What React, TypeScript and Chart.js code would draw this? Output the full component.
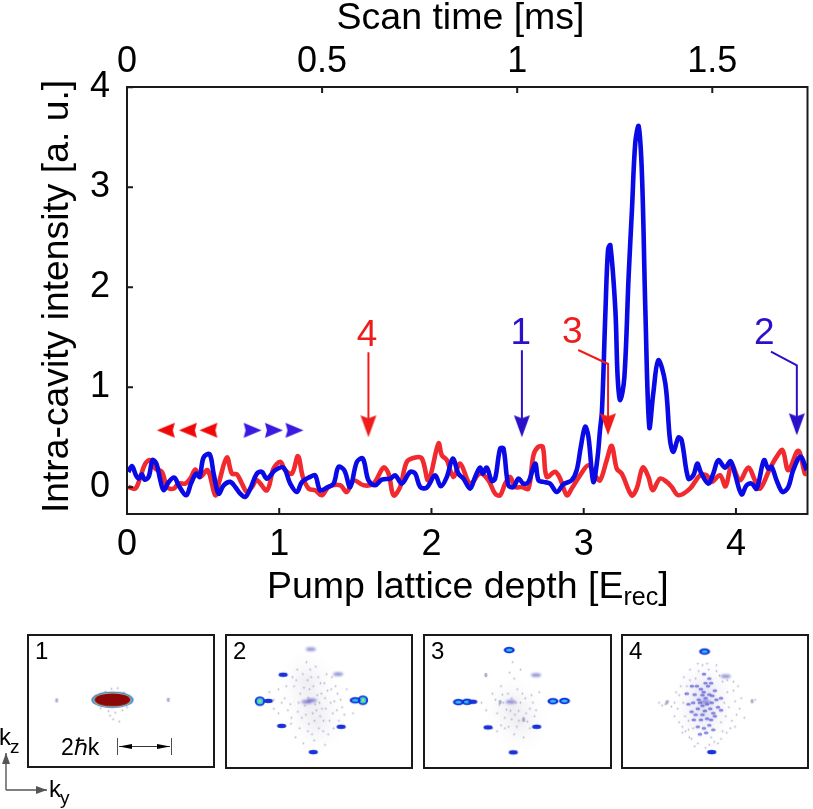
import React, { useEffect, useRef } from "react";
import { Chart, registerables } from "chart.js";
Chart.register(...registerables);

const FONT = "'Liberation Sans', Arial, sans-serif";

// Main traces: pump lattice depth [E_rec] and intensity [a.u.]
const blueDepth = [0.009,0.033,0.059,0.077,0.098,0.114,0.142,0.168,0.193,0.219,0.241,0.274,0.311,0.339,0.389,0.42,0.455,0.477,0.503,0.543,0.569,0.602,0.635,0.678,0.711,0.744,0.777,0.81,0.853,0.886,0.919,0.974,1.028,1.072,1.116,1.149,1.203,1.236,1.269,1.313,1.357,1.389,1.427,1.466,1.51,1.549,1.586,1.63,1.674,1.729,1.762,1.805,1.86,1.893,1.926,1.969,2.024,2.061,2.101,2.14,2.177,2.21,2.254,2.287,2.319,2.337,2.363,2.396,2.418,2.451,2.473,2.505,2.538,2.571,2.604,2.637,2.681,2.703,2.735,2.779,2.823,2.867,2.921,2.954,2.981,3.009,3.031,3.063,3.09,3.107,3.12,3.143,3.16,3.175,3.208,3.223,3.24,3.267,3.295,3.317,3.339,3.361,3.383,3.405,3.431,3.457,3.49,3.536,3.567,3.589,3.622,3.643,3.687,3.72,3.746,3.768,3.818,3.851,3.884,3.928,3.965,3.993,4.037,4.07,4.103,4.136,4.184,4.212,4.234,4.267,4.306,4.344,4.376,4.424,4.464];
const blueIntensity = [0.154,0.211,0.12,0.087,0.13,0.077,0.104,0.271,0.237,0.07,-0.03,0.054,0.097,0.02,-0.08,0.037,0.137,0.104,0.298,0.331,0.137,-0.064,0.02,0.054,0.003,-0.064,-0.097,-0.013,0.137,0.154,0.087,0.171,0.197,0.037,-0.047,0.054,0.104,0.12,-0.03,-0.003,0.037,0.204,0.171,0.003,0.254,0.288,0.07,0.02,0.077,0.087,0.12,0.037,0.154,0.137,0.003,-0.003,0.12,0.01,0.104,0.288,0.137,0.087,-0.013,0.104,0.197,0.137,0.197,0.064,0.087,0.388,0.388,0.02,0.003,0.087,0.037,0.054,0.237,0.07,0.054,0.037,-0.047,0.03,0.07,0.171,0.405,0.605,0.505,0.054,0.288,0.572,0.77,1.77,2.38,2.42,1.77,1.1,0.87,1.1,2.11,2.78,3.45,3.61,3.11,1.77,0.6,0.94,1.27,1.04,0.47,0.355,0.498,0.472,0.087,0.12,0.237,0.154,0.037,0.137,0.271,0.197,0.261,0.137,-0.07,0.02,0.037,-0.013,0.271,0.187,0.204,0.07,-0.047,0.003,0.171,0.304,0.171];
const redDepth = [0.009,0.055,0.088,0.12,0.153,0.186,0.23,0.263,0.306,0.339,0.383,0.416,0.449,0.481,0.53,0.58,0.608,0.656,0.689,0.722,0.755,0.788,0.821,0.853,0.919,0.963,1.007,1.039,1.083,1.123,1.155,1.193,1.236,1.28,1.324,1.4,1.444,1.488,1.554,1.619,1.685,1.718,1.751,1.794,1.838,1.893,1.937,1.98,2.046,2.068,2.101,2.144,2.188,2.254,2.319,2.374,2.418,2.451,2.484,2.516,2.549,2.593,2.637,2.67,2.702,2.731,2.757,2.812,2.845,2.889,2.921,2.976,3.031,3.074,3.107,3.151,3.184,3.217,3.25,3.315,3.348,3.388,3.425,3.453,3.501,3.545,3.578,3.622,3.698,3.764,3.807,3.84,3.895,3.932,3.972,4.026,4.081,4.125,4.158,4.223,4.267,4.306,4.344,4.409,4.453,4.464];
const redIntensity = [0.003,-0.013,0.104,0.237,0.271,0.187,0.154,0.003,-0.013,0.037,0.037,0.087,0.177,0.104,0.171,-0.08,0.07,0.298,0.137,0.13,0.037,-0.047,0.003,0.07,-0.03,0.187,0.254,0.171,0.137,0.311,0.104,-0.013,-0.03,-0.08,0.003,0.02,-0.047,0.07,0.02,0.037,0.197,0.137,-0.08,0.003,0.254,0.298,0.288,0.07,0.438,0.321,0.271,0.104,0.237,0.037,0.137,0.07,-0.064,-0.08,0.037,0.104,0.003,0.003,-0.013,0.321,0.405,0.405,0.104,0.154,0.087,-0.08,-0.013,0.12,0.221,0.12,0.07,0.271,0.415,0.187,0.137,-0.08,-0.013,0.197,0.104,-0.03,0.087,0.054,0.003,-0.08,-0.013,0.12,0.12,0.054,0.12,0.01,0.221,0.07,0.197,0.07,-0.013,0.187,0.304,0.371,0.171,0.365,0.137,0.137];

const xTicksBottom = [0, 1, 2, 3, 4];
const xTicksTop = [0, 0.5, 1, 1.5];
const yTicks = [0, 1, 2, 3, 4];
const xRange = [0, 4.47];
const topRange = [0, 1.744];
const yRange = [-0.267, 4.003];

// Annotation arrows, in data units
const arrow4X = [1.586, 1.586]; const arrow4Y = [1.35, 0.55];
const arrow1X = [2.594, 2.594]; const arrow1Y = [1.37, 0.55];
const arrow3X = [2.964, 3.16, 3.16]; const arrow3Y = [1.373, 1.233, 0.55];
const arrow2X = [4.23, 4.4, 4.4]; const arrow2Y = [1.356, 1.22, 0.55];
const redHeadX = [1.586, 3.16]; const redHeadY = [0.61, 0.63];
const blueHeadX = [2.594, 4.4]; const blueHeadY = [0.61, 0.63];
const scanLeftX = [0.255, 0.4, 0.535]; const scanRightX = [0.825, 0.965, 1.1]; const scanY = [0.57, 0.57, 0.57];
const labelValues = ["4", "1", "3", "2"];
const labelX = [1.577, 2.587, 2.925, 4.186]; const labelY = [1.41, 1.43, 1.44, 1.43];

// Absorption images: ky, kz in image units, and a weight selecting the spot class
const panel1Ky = [253, 73, 433]; const panel1Kz = [197, 199, 197]; const panel1Weight = [5, 0, 0];
const panel1Speckle = [[230,170],[250,160],[270,158],[290,172],[215,225],[240,235],[262,240],[285,232],[255,262],[275,270],[245,250],[300,222],[205,190]];
const panel2Ky = [254,165,342,90,117,422,397,160,352,262,257,240]; const panel2Kz = [27,112,110,200,199,197,197,282,285,369,197,202]; const panel2Weight = [1,2,1,4,2,4,3,2,2,2,1,1];
const panel2Haze = [[255,205],[240,130],[275,270]];
const panel2Speckle = [[150,160],[170,190],[180,230],[200,150],[210,95],[220,175],[225,255],[235,215],[240,70],[245,300],[250,160],[255,120],[260,240],[265,330],[270,85],[275,180],[280,290],[285,140],[290,225],[295,265],[300,190],[305,110],[310,310],[320,160],[325,240],[330,200],[340,175],[345,265],[355,220],[135,225],[190,275],[205,320],[230,340],[300,345],[370,160],[195,120],[215,205],[268,210],[246,188],[282,205],[120,170],[390,240],[160,205],[175,150],[188,210],[192,255],[207,130],[212,235],[218,290],[228,110],[232,155],[238,245],[244,130],[248,275],[252,95],[258,310],[262,150],[266,265],[272,230],[278,120],[284,250],[288,175],[294,300],[298,140],[302,225],[308,165],[314,265],[318,205],[322,120],[328,290],[334,150],[338,230],[350,195],[362,245],[150,240],[135,195]];
const panel3Ky = [254,179,340,91,119,137,394,431,259,186,342,267,225,300]; const panel3Kz = [30,113,113,203,202,202,200,199,202,287,285,370,203,262]; const panel3Weight = [3,0,1,3,3,2,3,3,1,2,2,2,0,0];
const panel3Haze = [[260,215],[290,270]];
const panel3Speckle = [[165,205],[180,230],[200,175],[210,195],[215,240],[228,150],[235,205],[240,255],[250,175],[255,105],[265,70],[270,125],[272,245],[280,160],[285,265],[290,205],[300,255],[305,190],[312,268],[320,225],[330,205],[335,250],[350,170],[215,300],[240,290],[270,310],[300,320],[320,290],[200,290],[290,95],[222,212],[232,178],[245,228],[258,232],[262,190],[276,205],[284,232],[296,175],[308,240],[325,180],[228,280],[252,285],[262,260],[278,285],[340,230]];
const panel4Ky = [247,315,270,250,125,400]; const panel4Kz = [35,117,369,202,204,200]; const panel4Weight = [3,1,2,1,0,0];
const panel4Haze = [[245,170],[245,240]];
const panel4Cloud = [[235,160],[262,125],[268,140],[280,165],[240,180],[215,178],[210,205],[228,195],[250,190],[262,178],[240,215],[255,210],[270,205],[285,195],[205,235],[225,225],[248,232],[265,225],[275,240],[212,262],[235,262],[255,258],[280,250],[245,290],[262,280],[275,295],[225,285],[195,210],[190,175],[300,190],[250,140],[245,110],[300,230],[222,150],[232,205],[244,170],[258,150],[272,182],[218,245],[240,245],[268,262],[290,220],[252,305],[232,310],[206,150]];
const panel4Speckle = [[165,180],[180,120],[190,150],[175,285],[160,225],[150,205],[185,300],[200,95],[205,325],[225,340],[240,80],[255,75],[268,320],[285,100],[290,340],[305,135],[320,170],[325,220],[335,265],[330,290],[345,200],[350,245],[305,300],[100,205],[120,210],[410,195],[200,130],[300,270],[210,290],[320,130],[170,150],[178,205],[184,250],[195,265],[198,320],[218,125],[228,100],[262,345],[278,335],[295,115],[310,205],[315,250],[318,305],[340,165],[360,225],[140,218],[110,214],[130,200],[155,170],[150,250],[165,270],[185,175],[175,305],[195,295],[215,350],[250,355],[300,325],[345,285],[365,190],[375,255],[355,150],[340,135],[260,95],[225,75],[285,80]];

type Sprite = HTMLCanvasElement;
const sprite = (w: number, h: number, draw: (c: CanvasRenderingContext2D) => void, blur = 0): Sprite => {
  const s = document.createElement("canvas");
  s.width = w; s.height = h;
  const c = s.getContext("2d")!;
  if (blur) c.filter = `blur(${blur}px)`;
  c.translate(w / 2, h / 2);
  draw(c);
  return s;
};
const ellipses = (w: number, h: number, rings: [number, number, string][], blur = 0.6) =>
  sprite(w, h, (c) => {
    rings.forEach(([rx, ry, col]) => { c.fillStyle = col; c.beginPath(); c.ellipse(0, 0, rx, ry, 0, 0, Math.PI * 2); c.fill(); });
  }, blur);
const haze = (rx: number, ry: number, col: string) =>
  sprite(rx * 2, ry * 2, (c) => {
    c.scale(1, ry / rx);
    const g = c.createRadialGradient(0, 0, 0, 0, 0, rx);
    g.addColorStop(0, col); g.addColorStop(1, "rgba(255,255,255,0)");
    c.fillStyle = g; c.beginPath(); c.arc(0, 0, rx, 0, Math.PI * 2); c.fill();
  });
const notched = (col: string, len: number, wid: number, notch = 3) =>
  sprite(len + 2, wid + 2, (c) => {
    c.fillStyle = col; c.beginPath();
    c.moveTo(len / 2, 0); c.lineTo(-len / 2, -wid / 2); c.lineTo(-len / 2 + notch, 0); c.lineTo(-len / 2, wid / 2); c.closePath(); c.fill();
  });

const spotStyles = (): Sprite[] => [
  ellipses(10, 10, [[1.6, 2.2, "rgba(120,120,170,.6)"]], 0.4),
  ellipses(22, 12, [[5, 2, "rgba(70,70,190,.55)"]], 0.8),
  ellipses(22, 12, [[4.6, 2.2, "#1a30d8"]], 0.7),
  ellipses(24, 16, [[5.5, 3.2, "#1030e0"], [3, 1.6, "#30c0f0"]], 0.5),
  ellipses(20, 20, [[5.2, 4.8, "#1030d8"], [3.4, 3.2, "#30c8e8"], [1.8, 1.8, "#9be060"]], 0.4),
  ellipses(52, 26, [[21, 8.3, "#2a70d0"], [19.5, 7.6, "#60c8e0"], [18.7, 7.1, "#e8d880"], [18, 6.6, "#8c0808"]], 0.4),
];
const speckleSprite = () => ellipses(5, 5, [[0.9, 0.9, "rgba(110,110,150,.5)"]], 0.2);
const cloudSprite = () => ellipses(10, 8, [[2.4, 1.5, "rgba(60,60,205,.6)"]], 0.5);

const drawText = (c: CanvasRenderingContext2D, t: string, x: number, y: number, font: string, col = "#000", align: CanvasTextAlign = "left") => {
  c.font = font; c.fillStyle = col; c.textAlign = align; c.textBaseline = "alphabetic"; c.fillText(t, x, y);
};
const grayArrow = (c: CanvasRenderingContext2D, x0: number, y0: number, x1: number, y1: number, col = "#555", len = 11, wid = 8) => {
  const a = Math.atan2(y1 - y0, x1 - x0);
  c.strokeStyle = col; c.fillStyle = col; c.beginPath(); c.moveTo(x0, y0); c.lineTo(x1, y1); c.stroke();
  c.save(); c.translate(x1, y1); c.rotate(a); c.beginPath(); c.moveTo(0, 0); c.lineTo(-len, -wid / 2); c.lineTo(-len, wid / 2); c.closePath(); c.fill(); c.restore();
};

const overlay = {
  id: "overlay",
  afterDraw(chart: any) {
    const c: CanvasRenderingContext2D = chart.ctx;
    const { x, xTop, y } = chart.scales;
    const a = chart.chartArea;
    c.save();
    c.strokeStyle = "#1a1a1a"; c.lineWidth = 2;
    c.strokeRect(a.left, a.top, a.right - a.left, a.bottom - a.top);
    c.lineWidth = 2; c.beginPath();
    xTicksBottom.forEach((v) => { const p = x.getPixelForValue(v); c.moveTo(p, a.bottom); c.lineTo(p, a.bottom - 6); });
    xTicksTop.forEach((v) => { const p = xTop.getPixelForValue(v); c.moveTo(p, a.top); c.lineTo(p, a.top + 6); });
    yTicks.forEach((v) => { const p = y.getPixelForValue(v); c.moveTo(a.left, p); c.lineTo(a.left + 6, p); });
    c.stroke();
    labelValues.forEach((t, i) => {
      const col = t === "4" || t === "3" ? "#f01c1c" : "#2a10c8";
      drawText(c, t, x.getPixelForValue(labelX[i]), y.getPixelForValue(labelY[i]), `37px ${FONT}`, col, "center");
    });
    const titleSize = 37.5;
    const tx = 267;
    drawText(c, "Pump lattice depth [E", tx, 598, `${titleSize}px ${FONT}`);
    const w = c.measureText("Pump lattice depth [E").width;
    drawText(c, "rec", tx + w, 605, `25px ${FONT}`);
    const w2 = c.measureText("rec").width;
    drawText(c, "]", tx + w + w2, 598, `${titleSize}px ${FONT}`);
    drawText(c, "Scan time [ms]", 460.5, 29, `${titleSize}px ${FONT}`, "#000", "center");
    c.save();
    c.translate(68, 296.5); c.rotate(-Math.PI / 2);
    drawText(c, "Intra-cavity intensity [a. u.]", 0, 0, `37.3px ${FONT}`, "#000", "center");
    c.restore();

    drawText(c, "2\u210Fk", 61, 755, `23px ${FONT}`);
    c.lineWidth = 0.8;
    c.strokeStyle = "#222"; c.beginPath();
    c.moveTo(117.5, 738); c.lineTo(117.5, 755); c.moveTo(171.5, 738); c.lineTo(171.5, 755); c.stroke();
    grayArrow(c, 144, 746.5, 119, 746.5, "#000", 13, 5);
    grayArrow(c, 144, 746.5, 170, 746.5, "#000", 13, 5);
    c.lineWidth = 1.4;
    grayArrow(c, 6, 790, 6, 753);
    grayArrow(c, 6, 790, 47, 790);
    drawText(c, "k", -1, 745, `24px ${FONT}`);
    drawText(c, "z", 10, 753, `19px ${FONT}`);
    drawText(c, "k", 49, 797, `24px ${FONT}`);
    drawText(c, "y", 60, 804, `19px ${FONT}`);
    c.restore();
  },
};

const pts = (xs: number[], ys: number[]) => xs.map((v, i) => ({ x: v, y: ys[i] }));
const shaft = (xs: number[], ys: number[], col: string) => ({
  data: pts(xs, ys), showLine: true, borderColor: col, borderWidth: 2, pointRadius: 0, tension: 0, order: 1,
});

function MainChart() {
  const ref = useRef<HTMLCanvasElement>(null);
  useEffect(() => {
    const red = "#f01c1c", blue = "#2a10c8";
    const chart = new Chart(ref.current!, {
      type: "scatter",
      data: {
        datasets: [
          { data: pts(redDepth, redIntensity), showLine: true, borderColor: "#f02a2e", borderWidth: 4.6, pointRadius: 0, tension: 0.35, order: 3 },
          { data: pts(blueDepth, blueIntensity), showLine: true, borderColor: "#0a0ae6", borderWidth: 4.6, pointRadius: 0, tension: 0.35, order: 2 },
          shaft(arrow4X, arrow4Y, red), shaft(arrow1X, arrow1Y, blue), shaft(arrow3X, arrow3Y, red), shaft(arrow2X, arrow2Y, blue),
          { data: pts(redHeadX, redHeadY), pointStyle: notched(red, 22, 16), rotation: 90, order: 0, clip: false },
          { data: pts(blueHeadX, blueHeadY), pointStyle: notched(blue, 22, 16), rotation: 90, order: 0, clip: false },
          { data: pts(scanLeftX, scanY), pointStyle: notched("#f00808", 18, 15, 2), rotation: 180, order: 0 },
          { data: pts(scanRightX, scanY), pointStyle: notched("#3a1ae0", 18, 15, 2), rotation: 0, order: 0 },
        ] as any,
      },
      options: {
        animation: false, responsive: false, devicePixelRatio: 1,
        layout: { padding: { right: 5.5, left: 0, top: 0, bottom: 0 } },
        plugins: { legend: { display: false }, tooltip: { enabled: false } },
        scales: {
          x: {
            type: "linear", position: "bottom", min: xRange[0], max: xRange[1],
            grid: { display: false }, border: { display: false },
            afterFit: (s: any) => { s.height = 295; },
            ticks: { stepSize: 1, includeBounds: false, maxRotation: 0, padding: 1, color: "#000", font: { size: 36, family: FONT }, callback: (v: any) => String(v) },
          },
          xTop: {
            type: "linear", position: "top", min: topRange[0], max: topRange[1],
            grid: { display: false }, border: { display: false },
            afterFit: (s: any) => { s.height = 87; },
            ticks: { stepSize: 0.5, includeBounds: false, maxRotation: 0, padding: -5, color: "#000", font: { size: 36, family: FONT }, callback: (v: any) => String(v) },
          },
          y: {
            type: "linear", min: yRange[0], max: yRange[1],
            grid: { display: false }, border: { display: false },
            afterFit: (s: any) => { s.width = 127; },
            ticks: { stepSize: 1, includeBounds: false, padding: 9, color: "#000", font: { size: 36, family: FONT }, callback: (v: any) => String(v) },
          },
        },
      } as any,
      plugins: [overlay],
    });
    return () => chart.destroy();
  }, []);
  return <canvas ref={ref} width={813} height={809} style={{ position: "absolute", left: 0, top: 0 }} />;
}

type PanelProps = { label: string; left: number; width: number; height: number; ky: number[]; kz: number[]; weight: number[]; speckle: number[][]; hazeAt?: number[][]; cloud?: number[][]; hazeCol?: string };

function Panel({ label, left, width, height, ky, kz, weight, speckle, hazeAt = [], cloud = [], hazeCol = "rgba(130,130,170,.12)" }: PanelProps) {
  const ref = useRef<HTMLCanvasElement>(null);
  useEffect(() => {
    const styles = spotStyles();
    const toPts = (l: number[][]) => l.map((p) => ({ x: p[0], y: p[1] }));
    const chart = new Chart(ref.current!, {
      type: "scatter",
      data: {
        datasets: [
          { data: pts(ky, kz), pointStyle: weight.map((w) => styles[w]), order: 0 },
          { data: toPts(cloud), pointStyle: cloudSprite(), order: 1 },
          { data: toPts(speckle), pointStyle: speckleSprite(), order: 2 },
          { data: toPts(hazeAt), pointStyle: haze(34, 36, hazeCol), order: 3 },
        ] as any,
      },
      options: {
        animation: false, responsive: false, devicePixelRatio: 1,
        plugins: { legend: { display: false }, tooltip: { enabled: false } },
        scales: {
          x: { type: "linear", min: 0, max: 561, display: false },
          y: { type: "linear", min: 0, max: 402, reverse: true, display: false },
        },
      } as any,
    });
    return () => chart.destroy();
  }, []);
  return (
    <div style={{ position: "absolute", left, top: 634, width, height, border: "2.4px solid #1a1a1a", boxSizing: "content-box" }}>
      <canvas ref={ref} width={width} height={height} style={{ display: "block" }} />
      <span style={{ position: "absolute", left: 6, top: 1, font: `24px ${FONT}`, color: "#000" }}>{label}</span>
    </div>
  );
}

export default function App() {
  return (
    <div style={{ position: "absolute", left: 0, top: 0, width: 813, height: 809, background: "#fff", overflow: "hidden" }}>
      <MainChart />
      <Panel label="1" left={27} width={184} height={130} ky={panel1Ky} kz={panel1Kz} weight={panel1Weight} speckle={panel1Speckle} />
      <Panel label="2" left={225} width={184} height={131} ky={panel2Ky} kz={panel2Kz} weight={panel2Weight} speckle={panel2Speckle} hazeAt={panel2Haze} />
      <Panel label="3" left={423} width={185} height={131} ky={panel3Ky} kz={panel3Kz} weight={panel3Weight} speckle={panel3Speckle} hazeAt={panel3Haze} />
      <Panel label="4" left={621} width={184} height={131} ky={panel4Ky} kz={panel4Kz} weight={panel4Weight} speckle={panel4Speckle} hazeAt={panel4Haze} cloud={panel4Cloud} hazeCol="rgba(90,90,190,.16)" />
    </div>
  );
}
